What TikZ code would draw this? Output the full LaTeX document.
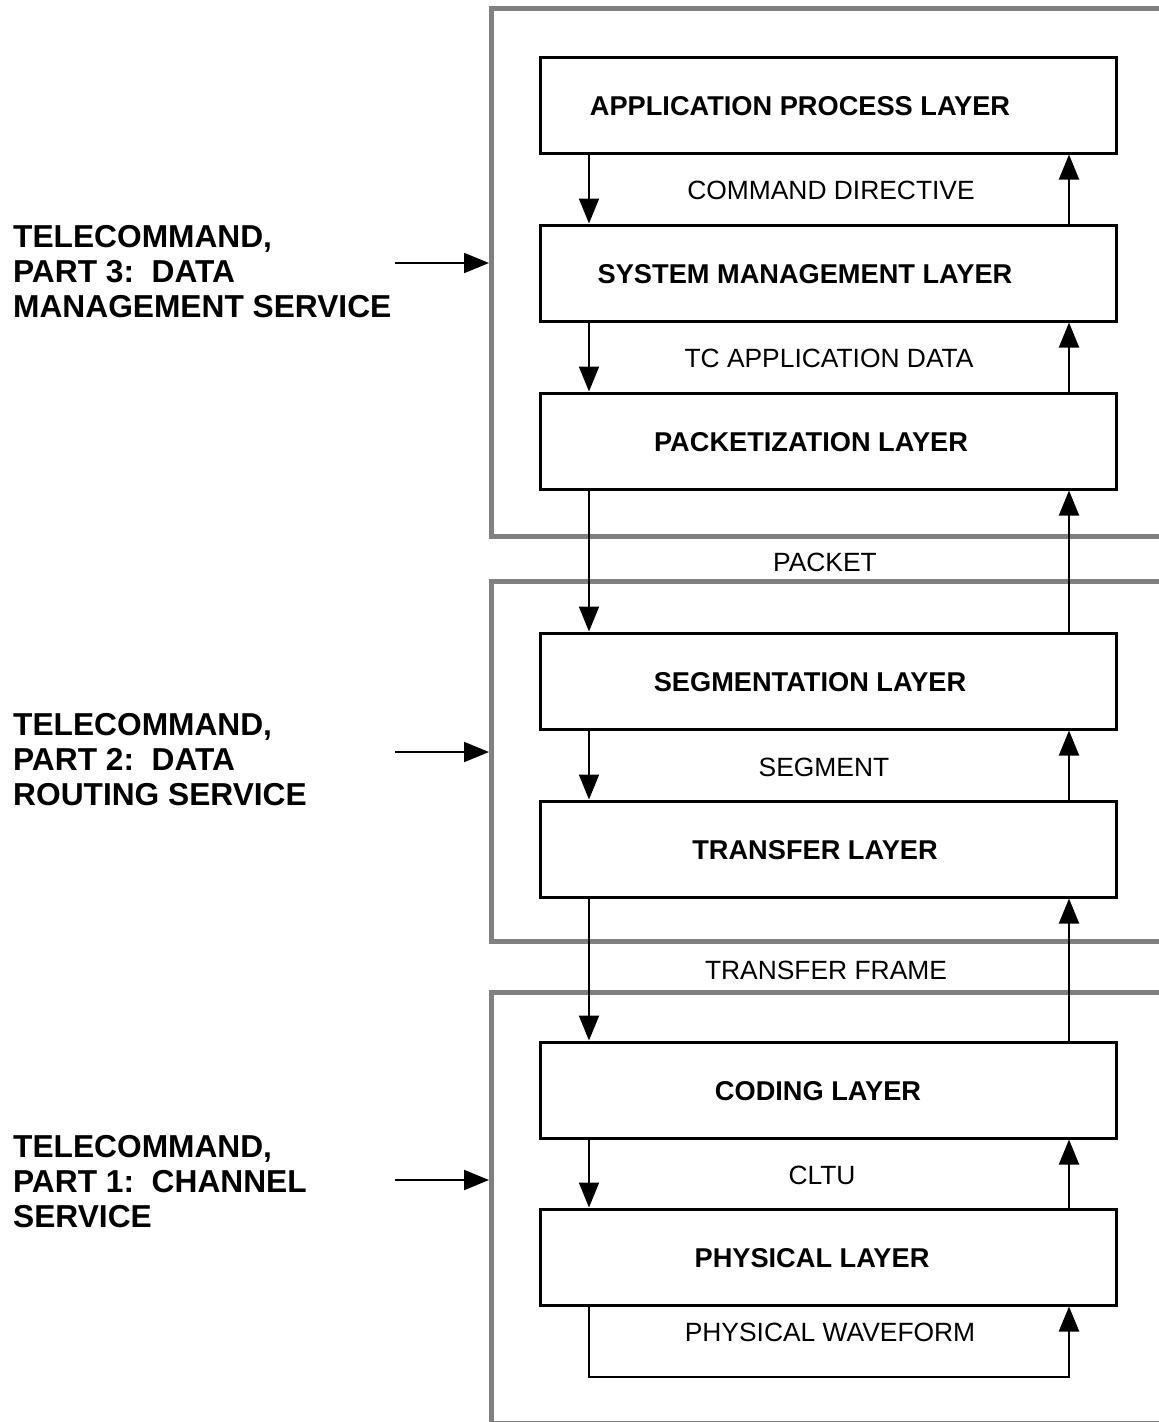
\documentclass[tikz,border=0pt]{standalone}
\usepackage{fontspec}
\setmainfont{Liberation Sans}
\usetikzlibrary{arrows.meta}
\definecolor{grp}{RGB}{128,128,128}
\begin{document}
\begin{tikzpicture}[x=1pt,y=-1pt,
  group/.style={draw=grp, line width=5pt},
  layer/.style={draw=black, line width=3pt, minimum width=576pt, minimum height=96pt, inner sep=0pt},
  ltext/.style={font=\fontsize{27.2}{30}\selectfont\bfseries, inner sep=0pt},
  flow/.style={font=\fontsize{26.4}{30}\selectfont, inner sep=0pt},
  svc/.style={font=\fontsize{31.7}{35}\selectfont\bfseries, align=left, inner sep=0pt, anchor=north west},
  conn/.style={line width=2pt, -{Triangle[length=25pt,width=20pt]}},
]
\path[use as bounding box, fill=white] (0,0) rectangle (1159,1422);
\begin{scope}
\clip (0,0) rectangle (1159,1422);
\draw[group] (491.5,8) rectangle (1180,536);
\draw[group] (491.5,581) rectangle (1180,941);
\draw[group] (491.5,992) rectangle (1180,1423);
\end{scope}

% layer boxes
\node[layer] (app)  at (828.7,105) {};
\node[layer] (sys)  at (828.7,273) {};
\node[layer] (pack) at (828.7,441) {};
\node[layer] (seg)  at (828.7,681) {};
\node[layer] (tran) at (828.7,849) {};
\node[layer] (cod)  at (828.7,1090) {};
\node[layer] (phy)  at (828.7,1257) {};

\node[ltext] (appt)  at (800,106) {APPLICATION PROCESS LAYER};
\node[ltext] (syst)  at (805,274) {SYSTEM MANAGEMENT LAYER};
\node[ltext] (packt) at (811,442) {PACKETIZATION LAYER};
\node[ltext] (segt)  at (810,682) {SEGMENTATION LAYER};
\node[ltext] (trant) at (815,850) {TRANSFER LAYER};
\node[ltext] (codt)  at (818,1091) {CODING LAYER};
\node[ltext] (phyt)  at (812,1258) {PHYSICAL LAYER};

% flow labels
\node[flow] (f1) at (831,190) {COMMAND DIRECTIVE};
\node[flow] (f2) at (829,358) {TC APPLICATION DATA};
\node[flow] (f3) at (825,562) {PACKET};
\node[flow] (f4) at (824,767) {SEGMENT};
\node[flow] (f5) at (826,970) {TRANSFER FRAME};
\node[flow] (f6) at (822,1175) {CLTU};
\node[flow] (f7) at (830,1332) {PHYSICAL WAVEFORM};

\coordinate (dx) at (589,0);
\coordinate (ux) at (1069,0);

% downward arrows
\draw[conn] (app.south -| dx) -- (sys.north -| dx);
\draw[conn] (sys.south -| dx) -- (pack.north -| dx);
\draw[conn] (pack.south -| dx) -- (seg.north -| dx);
\draw[conn] (seg.south -| dx) -- (tran.north -| dx);
\draw[conn] (tran.south -| dx) -- (cod.north -| dx);
\draw[conn] (cod.south -| dx) -- (phy.north -| dx);
% upward arrows
\draw[conn] (sys.north -| ux) -- (app.south -| ux);
\draw[conn] (pack.north -| ux) -- (sys.south -| ux);
\draw[conn] (seg.north -| ux) -- (pack.south -| ux);
\draw[conn] (tran.north -| ux) -- (seg.south -| ux);
\draw[conn] (cod.north -| ux) -- (tran.south -| ux);
\draw[conn] (phy.north -| ux) -- (cod.south -| ux);
% physical waveform loop
\coordinate (wr) at (1069,1377);
\draw[conn, line width=2.5pt] (phy.south -| dx) |- (wr) -- (phy.south -| ux);

% service labels
\node[svc] (s3) at (13,225) {TELECOMMAND,\\PART 3:~~DATA\\MANAGEMENT SERVICE};
\node[svc] (s2) at (13,713) {TELECOMMAND,\\PART 2:~~DATA\\ROUTING SERVICE};
\node[svc] (s1) at (13,1135) {TELECOMMAND,\\PART 1:~~CHANNEL\\SERVICE};

\coordinate (a3) at (395,263);
\coordinate (b3) at (489,263);
\coordinate (a2) at (395,752);
\coordinate (b2) at (489,752);
\coordinate (a1) at (395,1180);
\coordinate (b1) at (489,1180);
\draw[conn] (a3) -- (b3);
\draw[conn] (a2) -- (b2);
\draw[conn] (a1) -- (b1);
\end{tikzpicture}
\end{document}
